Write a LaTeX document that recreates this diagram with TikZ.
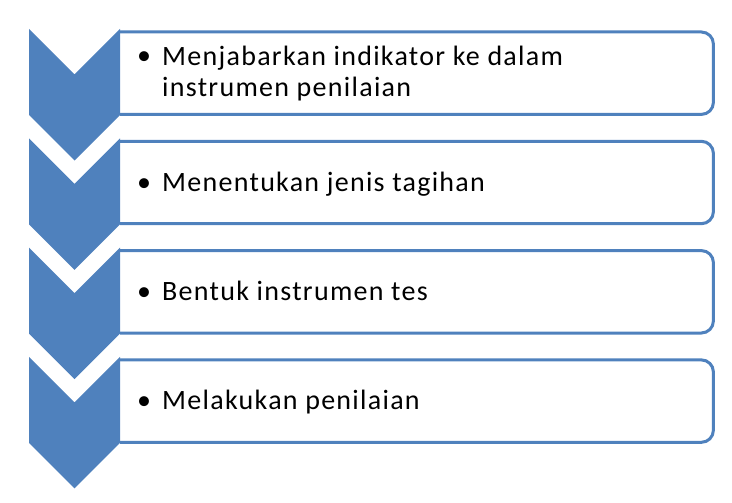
\documentclass[tikz,border=0pt]{standalone}
\usepackage{fontspec}
\setmainfont{Carlito}[LetterSpace=4.6]
\definecolor{chevblue}{HTML}{4F81BD}

\begin{document}
\begin{tikzpicture}[x=1pt,y=-1pt,
    box/.style = {minimum width=593pt, minimum height=82pt, anchor=north west, inner sep=0pt},
    chev/.style = {fill=chevblue},
    frame/.style = {draw=chevblue, line width=3pt, rounded corners=12pt},
    item/.style = {anchor=base west, align=left, inner sep=0pt, font=\fontsize{28}{31}\selectfont},
    bul/.style = {anchor=base, inner sep=0pt, font=\fontsize{28}{31}\selectfont}]
  \useasboundingbox (0,0) rectangle (732,503);

  \node[box] (b1) at (120,32) {};
  \node[box] (b2) at (120,141.3) {};
  \node[box] (b3) at (120,250.6) {};
  \node[box] (b4) at (120,359.9) {};

  \foreach \n in {1,...,4}
    \draw[frame] (b\n.north west) -- (b\n.north east) -- (b\n.south east) -- (b\n.south west);

  \foreach \i in {0,...,3}
    \fill[chev] (29,29+109.3*\i) -- ++(45.5,45.5) -- ++(45.5,-45.5) -- ++(0,86)
      -- ++(-45.5,45.5) -- ++(-45.5,-45.5) -- cycle;

  \node[bul] (d1) at (144,65) {\textbullet};
  \node[item] (t1) at (162,96) {Menjabarkan indikator ke dalam\\instrumen penilaian};

  \node[bul] (d2) at (144,191) {\textbullet};
  \node[item] (t2) at (162,191) {Menentukan jenis tagihan};

  \node[bul] (d3) at (144,300.3) {\textbullet};
  \node[item] (t3) at (162,300.3) {Bentuk instrumen tes};

  \node[bul] (d4) at (144,409.6) {\textbullet};
  \node[item] (t4) at (162,409.6) {Melakukan penilaian};

\end{tikzpicture}
\end{document}
